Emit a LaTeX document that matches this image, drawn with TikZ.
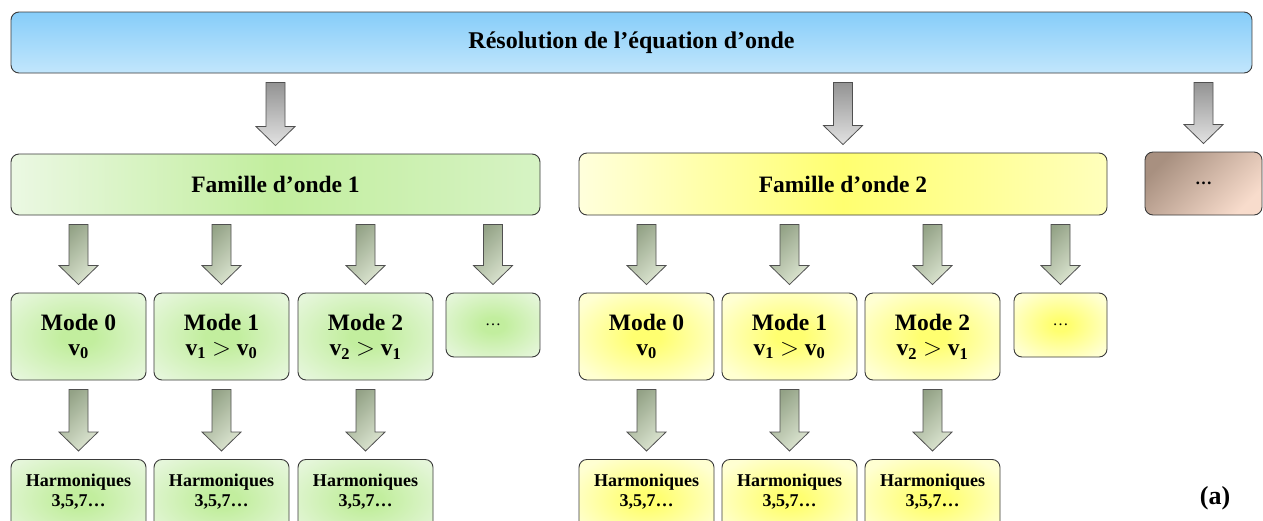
\documentclass[tikz,border=0pt]{standalone}
\usepackage{fontspec}
\setmainfont{Liberation Serif}
\usetikzlibrary{calc}
\definecolor{boxline}{HTML}{3A3A3A}
\definecolor{arrline}{HTML}{505050}
\definecolor{blueTop}{HTML}{86CDF9}
\definecolor{blueBot}{HTML}{C2E6FC}
\definecolor{gEdge}{HTML}{EBF8E3}
\definecolor{gMid}{HTML}{C2EE9E}
\definecolor{gRight}{HTML}{D6F3C4}
\definecolor{gmEdge}{HTML}{E5F6DA}
\definecolor{yEdge}{HTML}{FFFFDC}
\definecolor{ymEdge}{HTML}{FFFFD2}
\definecolor{yMid}{HTML}{FFFF70}
\definecolor{yRight}{HTML}{FFFFBC}
\definecolor{brDark}{HTML}{A89080}
\definecolor{brLight}{HTML}{F8DCCC}
\definecolor{grayTop}{HTML}{939393}
\definecolor{grayBot}{HTML}{E2E2E2}
\definecolor{arrG1}{HTML}{93A286}
\definecolor{arrG2}{HTML}{DCE5D1}
\pgfdeclareradialshading{gradial}{\pgfpoint{0bp}{0bp}}{color(0bp)=(gMid); color(6bp)=(gMid); color(32bp)=(gmEdge); color(50bp)=(gmEdge)}
\pgfdeclareradialshading{yradial}{\pgfpoint{0bp}{0bp}}{color(0bp)=(yMid); color(5bp)=(yMid); color(30bp)=(ymEdge); color(50bp)=(ymEdge)}
\tikzset{
  x=1pt, y=-1pt,
  box/.style={draw=boxline, line width=0.9pt, rounded corners=8pt, inner sep=2pt, align=center, font=\bfseries},
  bigfont/.style={font=\bfseries\fontsize{23.5}{27}\selectfont},
  topbox/.style={box, top color=blueTop, bottom color=blueBot, font=\bfseries\fontsize{24}{28}\selectfont},
  fam1/.style={box, left color=gEdge, right color=gRight, middle color=gMid, bigfont},
  fam2/.style={box, left color=yEdge, right color=yRight, middle color=yMid, bigfont},
  dotsbox/.style={box, top color=brDark, bottom color=brLight, shading angle=45, font=\bfseries\fontsize{17}{20}\selectfont},
  gfill/.style={shade, shading=gradial},
  yfill/.style={shade, shading=yradial},
  modefont/.style={font=\bfseries\fontsize{23.5}{25}\selectfont},
  gmode/.style={box, gfill, minimum width=135pt, minimum height=87pt, modefont},
  ymode/.style={box, yfill, minimum width=135pt, minimum height=87pt, modefont},
  gsmall/.style={box, gfill, minimum width=94pt, minimum height=64pt, font=\fontsize{16}{19}\selectfont},
  ysmall/.style={box, yfill, minimum width=93pt, minimum height=64pt, font=\fontsize{16}{19}\selectfont},
  harmfont/.style={font=\bfseries\fontsize{18}{20}\selectfont},
  gharm/.style={box, gfill, minimum width=135pt, minimum height=80pt, anchor=north, harmfont},
  yharm/.style={box, yfill, minimum width=135pt, minimum height=80pt, anchor=north, harmfont},
  grayarrow/.style={draw=arrline, line width=0.8pt, top color=grayTop, bottom color=grayBot},
  greenarrow/.style={draw=arrline, line width=0.8pt, top color=arrG1, bottom color=arrG2, shading angle=45},
}
\newcommand\blockarrow[3]{%
  \draw[#1] let \p1=(#3.north), \p2=(#2.south) in
    (\x1-9.5pt,\y2-9pt) -- (\x1+9.5pt,\y2-9pt) -- (\x1+9.5pt,\y1+27pt) --
    (\x1+19.5pt,\y1+27pt) -- (\x1,\y1+8pt) -- (\x1-19.5pt,\y1+27pt) --
    (\x1-9.5pt,\y1+27pt) -- cycle;}
\newcommand\harmtext{\begin{tabular}{@{}c@{}}Harmoniques\\3,5,7…\\[-6pt]\mbox{}\end{tabular}}
\begin{document}
\begin{tikzpicture}
\clip (0,0) rectangle (1263,520);
\fill[white] (0,0) rectangle (1263,520);
% top
\node[topbox, minimum width=1241pt, minimum height=61pt] (T) at (631.5,42.5) {Résolution de l’équation d’onde};
% families
\node[fam1, minimum width=529pt, minimum height=61pt] (F1) at (275.5,184.5) {Famille d’onde 1};
\node[fam2, minimum width=528pt, minimum height=62pt] (F2) at (843,184) {Famille d’onde 2};
\node[dotsbox, minimum width=117pt, minimum height=63pt] (F3) at (1203.5,183.5) {…};
% modes family 1
\node[gmode] (M10) at (78.5,336.5) {Mode 0\\v\textsubscript{0}};
\node[gmode] (M11) at (221.5,336.5) {Mode 1\\v\textsubscript{1} $>$ v\textsubscript{0}};
\node[gmode] (M12) at (365.5,336.5) {Mode 2\\v\textsubscript{2} $>$ v\textsubscript{1}};
\node[gsmall] (M13) at (493,325) {…};
% modes family 2
\node[ymode] (M20) at (646.5,336.5) {Mode 0\\v\textsubscript{0}};
\node[ymode] (M21) at (789.5,336.5) {Mode 1\\v\textsubscript{1} $>$ v\textsubscript{0}};
\node[ymode] (M22) at (932.5,336.5) {Mode 2\\v\textsubscript{2} $>$ v\textsubscript{1}};
\node[ysmall] (M23) at (1060.5,325) {…};
% harmonics
\node[gharm] (H10) at (78.5,459) {\harmtext};
\node[gharm] (H11) at (221.5,459) {\harmtext};
\node[gharm] (H12) at (365.5,459) {\harmtext};
\node[yharm] (H20) at (646.5,459) {\harmtext};
\node[yharm] (H21) at (789.5,459) {\harmtext};
\node[yharm] (H22) at (932.5,459) {\harmtext};
% label
\node[font=\bfseries\fontsize{26}{30}\selectfont] (lab) at (1215,498) {(a)};
% arrows
\blockarrow{grayarrow}{T}{F1}
\blockarrow{grayarrow}{T}{F2}
\blockarrow{grayarrow}{T}{F3}
\foreach \m in {M10,M11,M12,M13}{\blockarrow{greenarrow}{F1}{\m}}
\foreach \m in {M20,M21,M22,M23}{\blockarrow{greenarrow}{F2}{\m}}
\blockarrow{greenarrow}{M10}{H10}
\blockarrow{greenarrow}{M11}{H11}
\blockarrow{greenarrow}{M12}{H12}
\blockarrow{greenarrow}{M20}{H20}
\blockarrow{greenarrow}{M21}{H21}
\blockarrow{greenarrow}{M22}{H22}
\end{tikzpicture}
\end{document}
